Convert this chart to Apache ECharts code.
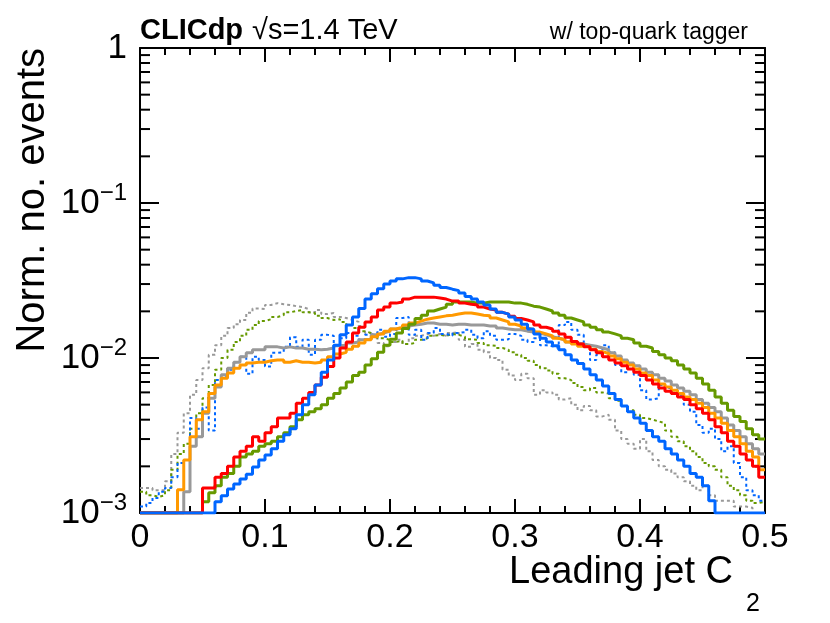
<!DOCTYPE html>
<html><head><meta charset="utf-8">
<script src="https://cdn.jsdelivr.net/npm/echarts@6/dist/echarts.min.js"></script>
<style>html,body{margin:0;padding:0;background:#fff}#c{width:830px;height:623px}</style>
</head><body><div id="c"></div>
<script>
// ---- data ----
const X_MIN = 0, X_MAX = 0.5, BIN_WIDTH = 0.005, N_BINS = 100;
const Y_MIN = 0.001, Y_MAX = 1;
const xTickLabels = ['0', '0.1', '0.2', '0.3', '0.4', '0.5'];
const binLow = Array.from({length: N_BINS}, (_, i) => +(i * BIN_WIDTH).toFixed(3));

const blueSolid = [0,0,0,0,0,0,0,0,0,0,0,0,
 0.00118,0.00129,0.00143,0.00154,0.00166,0.00178,0.00198,0.0022,0.00237,0.0026,
 0.0029,0.0032,0.0035,0.0043,0.005,0.0058,0.0067,0.0081,0.0097,0.0121,
 0.0141,0.0163,0.0184,0.0209,0.024,0.026,0.028,0.030,0.0314,0.0324,
 0.033,0.033,0.0324,0.0314,0.0305,0.0295,0.0285,0.0278,0.0272,0.0263,
 0.0249,0.024,0.023,0.022,0.0207,0.0197,0.0192,0.0184,0.0176,0.0165,
 0.0154,0.0143,0.0134,0.0127,0.012,0.0113,0.0105,0.0097,0.0092,0.0085,
 0.0078,0.0072,0.0066,0.0059,0.0054,0.0049,0.0045,0.0041,0.0038,0.0034,
 0.0031,0.0029,0.0026,0.0024,0.0022,0.002,0.0018,0.0017,0.0015,0.0012,
 0,0,0,0,0,0,0,0];
const redSolid = [0,0,0,0,0,0,0,0,0,0,
 0.00145,0.00145,0.0017,0.0018,0.002,0.0023,0.0025,0.0027,0.0031,0.0029,
 0.0033,0.0036,0.0041,0.0041,0.0044,0.0051,0.0055,0.006,0.0067,0.0075,
 0.0088,0.010,0.0116,0.0127,0.0145,0.0158,0.0171,0.0184,0.0204,0.0213,
 0.0226,0.023,0.024,0.0247,0.0247,0.0247,0.0247,0.0244,0.024,0.0233,
 0.0233,0.0226,0.0222,0.022,0.0213,0.0207,0.0204,0.0197,0.0192,0.0186,
 0.018,0.0176,0.0171,0.0163,0.0158,0.0154,0.0149,0.0143,0.0136,0.0128,
 0.0123,0.0118,0.0113,0.0108,0.0102,0.0097,0.0093,0.0089,0.0085,0.0081,
 0.0077,0.0072,0.0068,0.0064,0.0061,0.0059,0.0056,0.0054,0.005,0.0047,
 0.0044,0.004,0.0036,0.0033,0.0029,0.0027,0.0024,0.0022,0.002,0.0017];
const orangeSolid = [0,0,0,0,0,0,
 0.00141,0.0022,0.0031,0.004,0.0045,0.0059,0.0067,0.0074,0.008,0.0086,
 0.009,0.0093,0.0094,0.0094,0.0096,0.0097,0.0097,0.0094,0.0096,0.0094,
 0.0094,0.0093,0.0094,0.0097,0.0102,0.0106,0.0109,0.0114,0.0119,0.0125,
 0.0131,0.0137,0.0143,0.0149,0.0154,0.0158,0.0163,0.0168,0.0173,0.0178,
 0.0181,0.0184,0.0187,0.0189,0.0192,0.0195,0.0195,0.0192,0.0189,0.0187,
 0.0181,0.0176,0.0171,0.0165,0.0161,0.0156,0.0152,0.0147,0.0143,0.0139,
 0.0134,0.0131,0.0127,0.0123,0.0119,0.0118,0.0114,0.011,0.0107,0.0103,
 0.0099,0.0094,0.009,0.0085,0.008,0.0077,0.0072,0.0068,0.0065,0.0062,
 0.0059,0.0056,0.0054,0.0051,0.0048,0.0044,0.0041,0.0038,0.0034,0.0031,
 0.0028,0.0025,0.0023,0.0019];
const graySolid = [0,0,0,0,0,0,0,
 0.00137,0.0027,0.0031,0.0044,0.0055,0.0065,0.0078,0.0086,0.0094,0.0102,
 0.0108,0.0113,0.0113,0.0118,0.0118,0.0116,0.0118,0.0116,0.0116,0.0114,
 0.0114,0.0113,0.0114,0.0116,0.012,0.0121,0.0125,0.0127,0.0131,0.0134,
 0.0141,0.0145,0.0149,0.0154,0.0156,0.0161,0.0163,0.0165,0.0168,0.0168,
 0.0165,0.0165,0.0163,0.0165,0.0165,0.0163,0.0163,0.0163,0.0161,0.0161,
 0.0156,0.0154,0.0152,0.0152,0.0149,0.0147,0.0145,0.0141,0.0137,0.0134,
 0.0131,0.0127,0.0125,0.0123,0.0121,0.0119,0.0116,0.0113,0.0108,0.0103,
 0.0097,0.0093,0.0089,0.0085,0.0081,0.0078,0.0074,0.0071,0.0067,0.0064,
 0.0061,0.0058,0.0054,0.0051,0.0048,0.0045,0.0041,0.0037,0.0034,0.0031,
 0.0028,0.0026,0.0024];
const greenSolid = [0,0,0,0,0,0,0,0,0,0,
 0.00118,0.00135,0.0015,0.0017,0.0018,0.002,0.0023,0.0024,0.0025,0.0027,
 0.0028,0.0029,0.0031,0.0033,0.0036,0.004,0.0043,0.0045,0.0047,0.005,
 0.0055,0.0059,0.0064,0.007,0.0077,0.0081,0.009,0.0099,0.0109,0.0121,
 0.0132,0.0145,0.0155,0.0165,0.018,0.0189,0.0201,0.0207,0.0213,0.0222,
 0.023,0.023,0.023,0.0226,0.0226,0.023,0.023,0.023,0.023,0.0226,
 0.0226,0.0222,0.0216,0.0213,0.0207,0.0201,0.0195,0.0189,0.0181,0.0176,
 0.0171,0.0163,0.0158,0.0152,0.0147,0.0143,0.0139,0.0134,0.0131,0.0125,
 0.0119,0.0116,0.011,0.0105,0.01,0.0096,0.009,0.0085,0.008,0.0074,
 0.0068,0.0062,0.0056,0.0051,0.0046,0.0042,0.0039,0.0035,0.0032,0.003];
const grayDotted = [0.00145,0.00145,0.0014,0.0014,0.0016,0.0024,0.0033,0.0044,0.0058,0.0072,
 0.0086,0.0105,0.0121,0.0139,0.0156,0.0165,0.0176,0.0196,0.0209,0.0207,
 0.022,0.0226,0.0222,0.022,0.0216,0.0213,0.0207,0.0197,0.0204,0.0192,
 0.0195,0.0184,0.0181,0.0176,0.0171,0.0161,0.0145,0.0134,0.0125,0.0119,
 0.0127,0.0131,0.0123,0.0134,0.0139,0.0143,0.0139,0.0143,0.0139,0.0145,
 0.0147,0.0131,0.0118,0.0123,0.0113,0.0109,0.01,0.0097,0.0084,0.0077,
 0.0072,0.0079,0.0074,0.0058,0.0062,0.006,0.0058,0.0054,0.0055,0.005,
 0.0046,0.0049,0.0046,0.0042,0.0043,0.004,0.0034,0.003,0.0028,0.0026,
 0.003,0.0025,0.0022,0.002,0.0019,0.0018,0.0017,0.0016,0.0015,0.0014,
 0.0015,0.0013,0.0012,0.0012,0.0012,0.0011,0.0011,0.00108,0,0];
const greenDotted = [0.00137,0.0013,0.00127,0.0013,0.0014,0.0019,0.0024,0.0028,0.0035,0.0044,
 0.0055,0.0067,0.0084,0.01,0.0113,0.0127,0.0139,0.0152,0.0163,0.0173,
 0.0178,0.0184,0.0189,0.0197,0.0201,0.0204,0.0197,0.0195,0.0187,0.0181,
 0.0176,0.0178,0.0171,0.0163,0.0156,0.0149,0.0145,0.0139,0.0134,0.0131,
 0.0127,0.0129,0.0123,0.0125,0.0131,0.0134,0.0139,0.0141,0.0139,0.0143,
 0.0141,0.0137,0.0132,0.0131,0.0125,0.0121,0.012,0.0116,0.0113,0.0109,
 0.0105,0.01,0.0096,0.009,0.0086,0.0083,0.0079,0.0074,0.0072,0.0069,
 0.0065,0.0062,0.0064,0.006,0.0059,0.0055,0.0053,0.0049,0.0046,0.0043,
 0.0041,0.004,0.0039,0.0038,0.0034,0.0031,0.0029,0.0027,0.0025,0.0023,
 0.0021,0.002,0.0019,0.0017,0.0015,0.0014,0.0013,0.0012,0.00116,0.00118];
const blueDotted = [0.0011,0.00116,0.00125,0.00137,0.00145,0.0017,0.0021,0.0022,0.0041,0.0035,
 0.0048,0.0034,0.0072,0.0075,0.0084,0.0094,0.0102,0.0079,0.0102,0.0097,
 0.0088,0.0108,0.0109,0.0118,0.0136,0.0118,0.0131,0.0105,0.0131,0.0141,
 0.0139,0.0121,0.0134,0.0145,0.0139,0.0131,0.0141,0.0145,0.0152,0.0137,
 0.0143,0.0181,0.0184,0.0141,0.0152,0.0131,0.0145,0.0156,0.0143,0.0139,
 0.0145,0.0147,0.0152,0.0141,0.0134,0.0149,0.0139,0.0131,0.0132,0.0143,
 0.0139,0.0131,0.0127,0.0134,0.0121,0.0119,0.0116,0.0163,0.0171,0.0152,
 0.0141,0.0121,0.0097,0.0105,0.0121,0.0109,0.009,0.0081,0.0086,0.0078,
 0.0062,0.0054,0.0055,0.0067,0.0064,0.0062,0.0058,0.005,0.0045,0.0037,
 0.0033,0.0035,0.003,0.0025,0.0027,0.0021,0.0017,0.0014,0.0013,0.0012];

// ---- rendering ----
const FONT = "'Liberation Sans', Arial, Helvetica, sans-serif";
const BLUE = '#0066ff', RED = '#ff0000', ORANGE = '#ff9900', GRAY = '#999999', GREEN = '#669900';

function stepData(vals) {
  // ROOT draws empty bins on the frame bottom of a log axis
  const pts = vals.map((v, i) => [binLow[i], v > 0 ? v : Y_MIN]);
  const last = vals[vals.length - 1];
  pts.push([X_MAX, last > 0 ? last : Y_MIN]);
  return pts;
}
function hist(name, vals, color, dotted) {
  return {
    name, type: 'line', step: 'end', data: stepData(vals), symbol: 'none',
    xAxisIndex: 0, yAxisIndex: 0, clip: true, silent: true, animation: false,
    lineStyle: dotted ? {color, width: 2, type: [3, 3]} : {color, width: 3, type: 'solid'}
  };
}

const chart = echarts.init(document.getElementById('c'), null, {renderer: 'canvas'});
const axisLine = {show: true, onZero: false, lineStyle: {color: '#000', width: 2}};
const tickStyle = {color: '#000', width: 2};

const xAxisBase = {
  type: 'value', min: X_MIN, max: X_MAX, interval: 0.1,
  axisLine, splitLine: {show: false},
  axisTick: {show: true, inside: true, length: 14, lineStyle: tickStyle},
  minorTick: {show: true, splitNumber: 5, length: 7, lineStyle: tickStyle},
  minorSplitLine: {show: false}
};
const yAxisBase = {
  type: 'log', logBase: 10, min: Y_MIN, max: Y_MAX,
  axisLine, splitLine: {show: false},
  axisTick: {show: true, inside: true, length: 19, lineStyle: tickStyle}
};

chart.setOption({
  animation: false,
  backgroundColor: '#fff',
  grid: {left: 140, right: 65, top: 48, bottom: 110, containLabel: false, outerBoundsMode: 'none'},
  xAxis: [
    Object.assign({}, xAxisBase, {position: 'bottom',
      axisLabel: {show: true, margin: 8, fontSize: 34, color: '#000', fontFamily: FONT,
        showMinLabel: true, showMaxLabel: true, hideOverlap: false,
        formatter: v => xTickLabels[Math.round(v / 0.1)]}}),
    Object.assign({}, xAxisBase, {position: 'top', axisLabel: {show: false}})
  ],
  yAxis: [
    Object.assign({}, yAxisBase, {position: 'left',
      axisLabel: {show: true, margin: 13, color: '#000', fontFamily: FONT, align: 'right',
        showMinLabel: true, showMaxLabel: true, hideOverlap: false,
        formatter: v => {
          const e = Math.round(Math.log10(v));
          if (e === 0) return '{b|1}';
          return '{b|10}{s|\u2212' + (-e) + '}';
        },
        rich: {
          b: {fontSize: 35, fontFamily: FONT, color: '#000', lineHeight: 44},
          s: {fontSize: 24, fontFamily: FONT, color: '#000', lineHeight: 26, verticalAlign: 'top'}
        }}}),
    Object.assign({}, yAxisBase, {position: 'right', axisLabel: {show: false}})
  ],
  series: [
    hist('gray dotted', grayDotted, GRAY, true),
    hist('green dotted', greenDotted, GREEN, true),
    hist('blue dotted', blueDotted, BLUE, true),
    hist('gray', graySolid, GRAY, false),
    hist('orange', orangeSolid, ORANGE, false),
    hist('green', greenSolid, GREEN, false),
    hist('red', redSolid, RED, false),
    hist('blue', blueSolid, BLUE, false)
  ]
});

// minor ticks of the log axis (2..9 x 10^n), on both sides of the frame
const gLeft = chart.convertToPixel({xAxisIndex: 0}, X_MIN);
const gRight = chart.convertToPixel({xAxisIndex: 0}, X_MAX);
const graphics = [];
for (let d = -3; d < 0; d++) {
  for (let k = 2; k <= 9; k++) {
    const y = chart.convertToPixel({yAxisIndex: 0}, k * Math.pow(10, d));
    graphics.push({type: 'line', silent: true, shape: {x1: gLeft, y1: y, x2: gLeft + 10, y2: y}, style: {stroke: '#000', lineWidth: 2}});
    graphics.push({type: 'line', silent: true, shape: {x1: gRight, y1: y, x2: gRight - 10, y2: y}, style: {stroke: '#000', lineWidth: 2}});
  }
}
const yTop = chart.convertToPixel({yAxisIndex: 0}, Y_MAX);
graphics.push(
  {type: 'text', x: 33, y: yTop, rotation: Math.PI / 2, silent: true,
   style: {text: 'Norm. no. events', fontSize: 40, fontFamily: FONT, fill: '#000', align: 'right', verticalAlign: 'middle'}},
  {type: 'text', x: gRight - 32, y: 573, silent: true,
   style: {text: 'Leading jet C', fontSize: 38, fontFamily: FONT, fill: '#000', align: 'right', verticalAlign: 'middle'}},
  {type: 'text', x: gRight - 19, y: 604, silent: true,
   style: {text: '2', fontSize: 25, fontFamily: FONT, fill: '#000', align: 'left', verticalAlign: 'middle'}},
  {type: 'text', x: gLeft, y: 31, silent: true,
   style: {text: 'CLICdp', fontSize: 29, fontWeight: 'bold', fontFamily: FONT, fill: '#000', align: 'left', verticalAlign: 'middle'}},
  {type: 'text', x: gLeft + 112, y: 31, silent: true,
   style: {text: '\u221As=1.4 TeV', fontSize: 29, fontFamily: FONT, fill: '#000', align: 'left', verticalAlign: 'middle'}},
  {type: 'text', x: 748, y: 33, silent: true,
   style: {text: 'w/ top-quark tagger', fontSize: 23, fontFamily: FONT, fill: '#000', align: 'right', verticalAlign: 'middle'}}
);
chart.setOption({graphic: graphics});
</script>
</body></html>
